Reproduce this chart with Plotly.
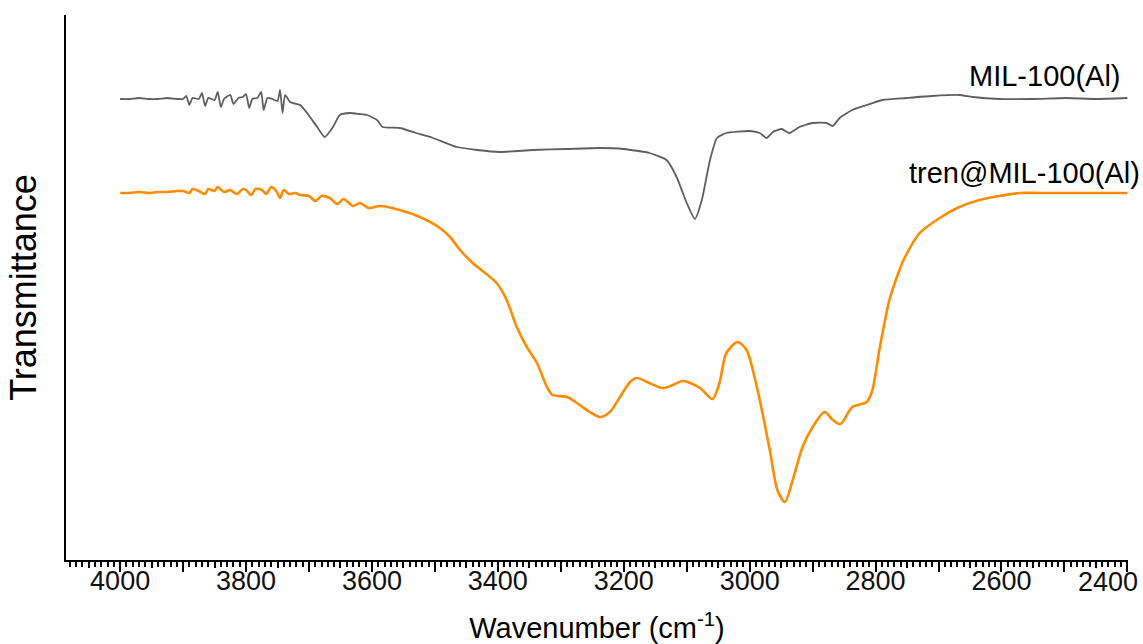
import plotly.graph_objects as go

# MIL-100(Al) spectrum (wavenumber cm-1, transmittance a.u.)
wn_mil = [4000, 3985, 3970, 3955, 3940, 3925, 3910, 3900, 3895, 3890, 3885, 3875, 3870, 3865,
          3860, 3850, 3845, 3840, 3835, 3825, 3820, 3812, 3805, 3800, 3795, 3790, 3782, 3776,
          3772, 3766, 3758, 3750, 3746, 3742, 3738, 3730, 3714, 3703, 3687, 3675, 3662, 3651,
          3635, 3620, 3608, 3592, 3583, 3556, 3530, 3503, 3465, 3433, 3397, 3344, 3290, 3238,
          3200, 3159, 3132, 3116, 3100, 3087, 3076, 3063, 3052, 3037, 3000, 2984, 2973, 2963,
          2949, 2937, 2921, 2900, 2878, 2868, 2857, 2837, 2814, 2789, 2751, 2710, 2667, 2646,
          2603, 2551, 2497, 2450, 2400]
t_mil = [461, 461, 462, 461, 461, 462, 461, 461, 464, 455, 462, 461, 467, 454,
         462, 460, 468, 453, 461, 465, 456, 462, 463, 466, 452, 461, 462, 468,
         450, 462, 461, 459, 470, 447, 465, 458, 455, 447, 433, 423, 433, 445,
         447, 446, 445, 440, 433, 432, 427, 422, 413, 410, 408, 410, 411, 412,
         411, 407, 400, 383, 357, 341, 360, 400, 422, 427, 429, 427, 422, 428,
         431, 427, 433, 437, 437, 434, 442, 450, 455, 460, 462, 464, 465, 463,
         461, 461, 462, 461, 462]

# tren@MIL-100(Al) spectrum
wn_tren = [4000, 3985, 3970, 3955, 3940, 3925, 3910, 3900, 3890, 3885, 3875, 3865, 3860,
           3850, 3845, 3835, 3825, 3815, 3805, 3800, 3792, 3785, 3775, 3768, 3760, 3752,
           3746, 3740, 3732, 3722, 3714, 3700, 3690, 3680, 3667, 3655, 3645, 3630, 3619,
           3605, 3587, 3556, 3524, 3492, 3476, 3460, 3440, 3402, 3386, 3370, 3354, 3338,
           3322, 3313, 3290, 3270, 3254, 3238, 3222, 3206, 3190, 3179, 3163, 3138, 3122,
           3106, 3079, 3059, 3048, 3037, 3019, 3005, 2995, 2984, 2968, 2956, 2944, 2933,
           2916, 2900, 2881, 2868, 2856, 2837, 2814, 2805, 2794, 2778, 2762, 2754, 2730,
           2698, 2667, 2635, 2603, 2571, 2540, 2508, 2450, 2400]
t_tren = [367, 367, 368, 367, 368, 368, 369, 369, 367, 371, 369, 366, 371,
          369, 373, 368, 370, 366, 371, 370, 365, 371, 370, 366, 373, 369,
          362, 370, 366, 367, 365, 364, 359, 364, 362, 356, 361, 354, 357,
          352, 354, 350, 343, 332, 323, 310, 297, 277, 260, 233, 213, 197,
          173, 165, 163, 155, 148, 143, 148, 163, 178, 182, 178, 172, 175,
          179, 172, 161, 177, 207, 218, 210, 190, 160, 110, 70, 58, 77,
          113, 133, 148, 140, 136, 153, 158, 170, 210, 260, 290, 302, 327,
          342, 353, 360, 364, 367, 367, 367, 367, 367]

x_tickvals = list(range(4000, 2399, -100))
x_ticktext = [str(v) if (v % 200 == 0 and v != 2400) else "" for v in x_tickvals]
x_midticks = list(range(4050, 2399, -100))
last_label = "2400"

FONT = "Liberation Sans, Arial, sans-serif"
X_RANGE = [4086, 2399]

fig = go.Figure()
fig.add_trace(go.Scatter(x=wn_mil, y=t_mil, mode="lines", name="MIL-100(Al)",
                         line=dict(color="#5f5f5f", width=1.8, shape="spline", smoothing=0.5)))
fig.add_trace(go.Scatter(x=wn_tren, y=t_tren, mode="lines", name="tren@MIL-100(Al)",
                         line=dict(color="#ff8c00", width=2.6, shape="spline", smoothing=0.8)))
# invisible trace on the overlay axis so that the medium ticks are drawn
fig.add_trace(go.Scatter(x=[X_RANGE[0]], y=[0], xaxis="x2", mode="markers",
                         marker=dict(opacity=0), hoverinfo="skip", showlegend=False))

fig.add_annotation(text="MIL-100(Al)", xref="paper", yref="paper", x=1.0 - 5 / 1062, y=(560 - 76) / 545,
                   xanchor="right", yanchor="middle", showarrow=False,
                   font=dict(family=FONT, size=29, color="black"))
fig.add_annotation(text="tren@MIL-100(Al)", xref="paper", yref="paper", x=1.0 + 14 / 1062, y=(560 - 173) / 545,
                   xanchor="right", yanchor="middle", showarrow=False,
                   font=dict(family=FONT, size=29, color="black"))
fig.add_annotation(text=last_label, xref="paper", yref="paper", x=(1108 - 66) / 1062, y=-22 / 545,
                   xanchor="center", yanchor="middle", showarrow=False,
                   font=dict(family=FONT, size=27, color="#111"))

fig.update_layout(
    width=1143, height=644,
    margin=dict(l=66, r=15, t=15, b=84),
    paper_bgcolor="white", plot_bgcolor="white",
    showlegend=False,
    font=dict(family=FONT, size=27, color="black"),
    xaxis=dict(
        range=X_RANGE, autorange=False,
        showline=True, linecolor="black", linewidth=2,
        showgrid=False, zeroline=False,
        tickmode="array", tickvals=x_tickvals, ticktext=x_ticktext,
        ticks="outside", ticklen=10, tickwidth=2, tickcolor="black",
        ticklabelstandoff=-14,
        tickfont=dict(family=FONT, size=27, color="#111"),
        minor=dict(dtick=10, tick0=4000, ticks="outside", ticklen=5, tickwidth=1.5, tickcolor="black", showgrid=False),
        title=dict(text="Wavenumber (cm<sup>-1</sup>)", standoff=24, font=dict(family=FONT, size=29)),
        automargin=False,
    ),
    xaxis2=dict(
        range=X_RANGE, autorange=False, overlaying="x", side="bottom", anchor="y",
        showline=False, showgrid=False, zeroline=False,
        tickmode="array", tickvals=x_midticks, showticklabels=False,
        ticks="outside", ticklen=7, tickwidth=1.8, tickcolor="black",
        automargin=False,
    ),
    yaxis=dict(
        range=[0, 545], autorange=False,
        showline=True, linecolor="black", linewidth=2,
        showgrid=False, zeroline=False, showticklabels=False, ticks="",
        title=dict(text="Transmittance", standoff=16, font=dict(family=FONT, size=36)),
        automargin=False,
    ),
)

fig.write_html("out.html")
